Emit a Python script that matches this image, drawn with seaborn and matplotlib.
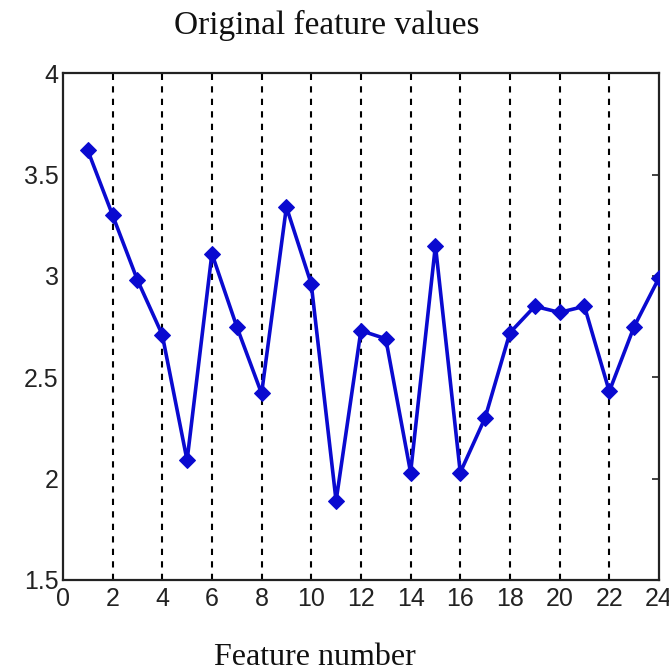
import numpy as np
import pandas as pd
import matplotlib
matplotlib.use("Agg")
import matplotlib.pyplot as plt
import seaborn as sns

# values
feature_number = list(range(1, 25))
feature_value = [3.62, 3.30, 2.98, 2.71, 2.09, 3.11, 2.75, 2.42, 3.34, 2.96,
                 1.89, 2.73, 2.69, 2.03, 3.15, 2.03, 2.30, 2.72, 2.85, 2.82,
                 2.85, 2.43, 2.75, 2.99]
x_ticks = list(range(0, 25, 2))
y_ticks = [1.5, 2, 2.5, 3, 3.5, 4]
y_tick_labels = ["1.5", "2", "2.5", "3", "3.5", "4"]

sns.set_style("white")
plt.rcParams['font.family'] = ['Liberation Sans', 'DejaVu Sans']

df = pd.DataFrame({"feature": feature_number, "value": feature_value})

fig = plt.figure(figsize=(6.69, 6.72), dpi=100)
ax = fig.add_axes([0.094, 0.137, 0.891, 0.754])

# dashed vertical grid at the even feature numbers
for xv in x_ticks[1:-1]:
    ax.axvline(xv, color="black", linestyle=(0, (3, 3)), linewidth=1.5, zorder=1)

sns.lineplot(data=df, x="feature", y="value", ax=ax, color="#0a0ad0",
             linewidth=2.6, marker="D", markersize=8, markeredgecolor="#0a0ad0",
             zorder=3)

ax.set_xlim(0, 24)
ax.set_ylim(1.5, 4)
ax.set_xticks(x_ticks)
ax.set_yticks(y_ticks)
ax.set_yticklabels(y_tick_labels)
ax.tick_params(direction="in", length=5, width=1.2, labelsize=18, colors="#222222",
               top=True, right=True, pad=3)
ax.tick_params(axis="x", pad=5)
for sp in ax.spines.values():
    sp.set_visible(True)
    sp.set_color("#222222")
    sp.set_linewidth(1.6)

ax.set_xlabel("")
ax.set_ylabel("")
fig.text(0.489, 0.962, "Original feature values", ha="center", va="center",
         family="Liberation Serif", fontsize=24, color="#111111")
fig.text(0.471, 0.022, "Feature number", ha="center", va="center",
         family="Liberation Serif", fontsize=23, color="#111111")

fig.savefig("out.png", dpi=100)
